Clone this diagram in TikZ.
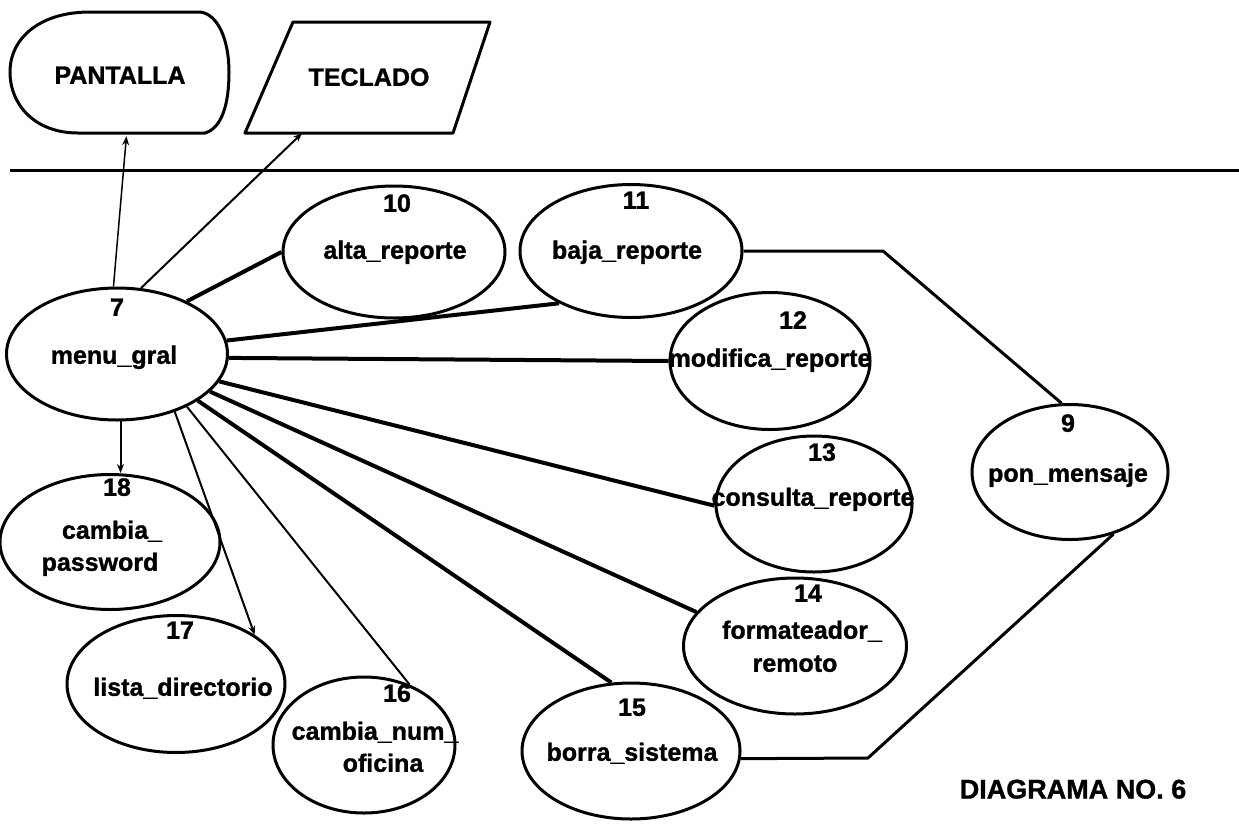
\documentclass[tikz,border=0pt]{standalone}
\usepackage{fontspec}
\setmainfont{Liberation Sans}[BoldFont={Liberation Sans Bold},BoldFeatures={FakeBold=1.2}]
\usetikzlibrary{shapes.geometric,arrows.meta}
\begin{document}
\begin{tikzpicture}[x=1pt,y=-1pt,
  proc/.style={ellipse,draw,line width=3pt,inner sep=0pt},
  lbl/.style={font=\fontsize{25}{28}\selectfont\bfseries,inner sep=0pt,text height=17.5pt,text depth=0pt},
  title/.style={font=\fontsize{27}{30}\selectfont\bfseries,inner sep=0pt,text height=19pt,text depth=0pt},
  heavy/.style={line width=4pt},
  medium/.style={line width=3pt},
  light/.style={line width=2pt},
  hair/.style={line width=1.5pt},
  tip/.style={-{Stealth[length=9pt,width=7pt]}}]
\useasboundingbox (0,0) rectangle (1239,828);

% terminators above the system boundary
\draw[line width=3pt] (90,12) -- (200,12)
  .. controls (218,14) and (229,40) .. (229,72)
  .. controls (229,104) and (222,128) .. (205,133)
  -- (78,133) .. controls (35,133) and (10,105) .. (10,72)
  .. controls (10,38) and (40,12) .. (90,12) -- cycle;
\node[lbl,minimum width=220pt,minimum height=122pt] (pant) at (120,75) {PANTALLA};
\draw[line width=3pt,line join=round] (293,22) -- (490,22) -- (453,133) -- (245,133) -- cycle;
\node[lbl,minimum width=205pt,minimum height=112pt] (tec) at (369,77) {TECLADO};

% system boundary
\coordinate (bl) at (10,170);
\coordinate (br) at (1239,170);
\draw[line width=3pt] (bl) -- (br);

% processes
\node[proc,minimum width=221pt,minimum height=132pt] (p7)  at (117,354) {};
\node[proc,minimum width=222pt,minimum height=132pt] (p10) at (394,252) {};
\node[proc,minimum width=222pt,minimum height=133pt] (p11) at (631,251) {};
\node[proc,minimum width=200pt,minimum height=137pt] (p12) at (770,361) {};
\node[proc,minimum width=196pt,minimum height=136pt] (p13) at (814,504) {};
\node[proc,minimum width=196pt,minimum height=135pt] (p9)  at (1070,472) {};
\node[proc,minimum width=223pt,minimum height=136pt] (p14) at (795,646) {};
\node[proc,minimum width=218pt,minimum height=136pt] (p15) at (631,751) {};
\node[proc,minimum width=182pt,minimum height=136pt] (p16) at (364,745) {};
\node[proc,minimum width=218pt,minimum height=137pt] (p17) at (176,684) {};
\node[proc,minimum width=220pt,minimum height=135pt] (p18) at (110,542) {};

% process numbers and names
\node[lbl] (n7)  at (117,307) {7};
\node[lbl] (t7)  at (114,355) {menu\_gral};
\node[lbl] (n10) at (397,203) {10};
\node[lbl] (t10) at (395,250) {alta\_reporte};
\node[lbl] (n11) at (636,200) {11};
\node[lbl] (t11) at (627,250) {baja\_reporte};
\node[lbl] (n12) at (793,320) {12};
\node[lbl] (t12) at (770,358) {modifica\_reporte};
\node[lbl] (n13) at (822,452) {13};
\node[lbl] (t13) at (813,497) {consulta\_reporte};
\node[lbl] (n9)  at (1068,423) {9};
\node[lbl] (t9)  at (1068,473) {pon\_mensaje};
\node[lbl] (n14) at (808,593) {14};
\node[lbl] (t14a) at (802,630) {formateador\_};
\node[lbl] (t14b) at (795,663) {remoto};
\node[lbl] (n15) at (632,707) {15};
\node[lbl] (t15) at (632,752) {borra\_sistema};
\node[lbl] (n16) at (397,693) {16};
\node[lbl] (t16a) at (375,731) {cambia\_num\_};
\node[lbl] (t16b) at (383,763) {oficina};
\node[lbl] (n17) at (180,630) {17};
\node[lbl] (t17) at (183,687) {lista\_directorio};
\node[lbl] (n18) at (117,487) {18};
\node[lbl] (t18a) at (112,530) {cambia\_};
\node[lbl] (t18b) at (100,562) {password};

\node[title] (cap) at (1073,789) {DIAGRAMA NO. 6};

% flows leaving menu_gral
\draw[hair,tip] (p7.93) -- (pant.-84);
\draw[light,tip] (p7.70) -- (tec.-140);
\draw[heavy] (p7.37) -- (p10.180);
\draw[heavy] (p7.7) -- (p11.-144);
\draw[heavy] (p7.-2) -- (p12.180);
\draw[heavy] (p7.-15) -- (p13.181);
\draw[heavy] (p7.-22) -- (p14.161);
\draw[heavy] (p7.-30) -- (p15.106);
\draw[light] (p7.-37.5) -- (p16.53);
\draw[light,tip] (p7.-45) -- (p17.32);
\draw[light,tip] (p7.-87) -- (p7.-87 |- p18.north);

% flows to pon_mensaje
\coordinate (k1) at (883,251);
\coordinate (k2) at (868,758);
\draw[medium,line join=round] (p11.east) -- (k1) -- (p9.97);
\draw[medium,line join=round] (p15.-4) -- (k2) -- (p9.-55);
\end{tikzpicture}
\end{document}
